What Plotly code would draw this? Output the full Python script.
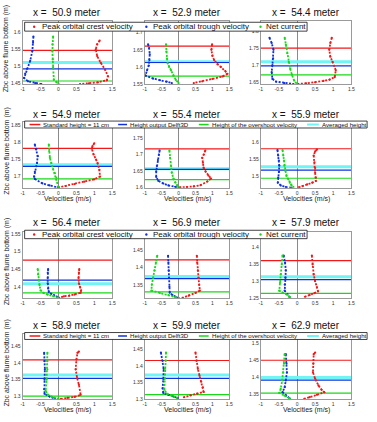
import plotly.graph_objects as go

# ---------------- data ----------------
stations = ["50.9", "52.9", "54.4", "54.9", "55.4", "55.9",
            "56.4", "56.9", "57.9", "58.9", "59.9", "62.9"]

z_min = [1.447, 1.55, 1.645, 1.667, 1.599, 1.465, 1.367, 1.31, 1.249, 1.292, 1.299, 1.334]
z_max = [1.635, 1.735, 1.83, 1.862, 1.80, 1.66, 1.555, 1.504, 1.445, 1.486, 1.496, 1.528]
z_ticks = [
    [1.45, 1.5, 1.55, 1.6], [1.55, 1.6, 1.65, 1.7], [1.65, 1.7, 1.75, 1.8],
    [1.7, 1.75, 1.8, 1.85], [1.6, 1.65, 1.7, 1.75], [1.5, 1.55, 1.6],
    [1.4, 1.45, 1.5, 1.55], [1.35, 1.4, 1.45, 1.5], [1.25, 1.3, 1.35, 1.4],
    [1.3, 1.35, 1.4, 1.45], [1.3, 1.35, 1.4, 1.45], [1.35, 1.4, 1.45, 1.5],
]
x_ticks = [-1, -0.5, 0, 0.5, 1, 1.5]
x_tick_text = ["-1", "-0.5", "0", "0.5", "1", "1.5"]

h_standard = [1.547, 1.661, 1.75, 1.783, 1.717, 1.58, 1.476, 1.423, 1.361, 1.409, 1.416, 1.45]
h_delft = [1.492, 1.613, 1.698, 1.730, 1.655, 1.517, 1.419, 1.368, 1.305, 1.354, 1.362, 1.391]
h_overshoot = [1.456, 1.573, 1.672, 1.693, 1.624, 1.493, 1.383, 1.329, 1.264, 1.301, 1.313, 1.352]
h_averaged = [1.511, 1.615, 1.71, 1.735, 1.657, 1.527, 1.409, 1.374, 1.313, 1.364, 1.372, 1.399]

crest_u = [
    [1.15, 1.08, 1.04, 1.08, 1.18, 1.3, 1.38, 1.35, 1.1, 0.85, 0.6],
    [0.99, 0.97, 1.0, 1.05, 1.15, 1.25, 1.38, 1.44, 1.3, 1.0, 0.7, 0.45],
    [0.96, 0.92, 0.89, 0.92, 0.98, 1.07, 1.04, 0.9, 0.73, 0.5, 0.25, 0.02],
    [1.0, 0.95, 0.93, 0.98, 1.05, 1.09, 1.14, 1.16, 1.0, 0.72, 0.45, 0.2, 0.0],
    [0.79, 0.75, 0.70, 0.72, 0.74, 0.8, 0.88, 0.96, 0.85, 0.65, 0.45, 0.25, 0.05],
    [0.55, 0.5, 0.46, 0.48, 0.5, 0.5, 0.52, 0.52, 0.42, 0.28, 0.15, 0.05],
    [0.58, 0.57, 0.56, 0.57, 0.6, 0.63, 0.62, 0.45, 0.3, 0.15, 0.02],
    [0.54, 0.55, 0.57, 0.59, 0.61, 0.63, 0.5, 0.3, 0.12],
    [0.41, 0.43, 0.46, 0.5, 0.55, 0.58, 0.48, 0.35, 0.22],
    [0.57, 0.53, 0.50, 0.48, 0.52, 0.57, 0.62, 0.45, 0.25, 0.07],
    [0.50, 0.53, 0.57, 0.62, 0.67, 0.72, 0.74, 0.55, 0.35, 0.16],
    [0.50, 0.46, 0.45, 0.44, 0.5, 0.59, 0.68, 0.75, 0.55, 0.35, 0.2],
]
crest_z = [
    [1.576, 1.565, 1.55, 1.53, 1.51, 1.49, 1.47, 1.458, 1.452, 1.449, 1.447],
    [1.666, 1.65, 1.633, 1.62, 1.608, 1.6, 1.588, 1.58, 1.572, 1.565, 1.558, 1.553],
    [1.78, 1.765, 1.745, 1.725, 1.71, 1.685, 1.665, 1.658, 1.654, 1.65, 1.647, 1.645],
    [1.798, 1.79, 1.782, 1.765, 1.75, 1.74, 1.72, 1.70, 1.692, 1.685, 1.678, 1.672, 1.668],
    [1.712, 1.70, 1.69, 1.675, 1.66, 1.648, 1.636, 1.627, 1.618, 1.607, 1.603, 1.601, 1.60],
    [1.578, 1.572, 1.56, 1.54, 1.523, 1.51, 1.495, 1.485, 1.48, 1.475, 1.47, 1.466],
    [1.45, 1.44, 1.425, 1.41, 1.4, 1.39, 1.383, 1.378, 1.375, 1.373, 1.369],
    [1.435, 1.415, 1.392, 1.37, 1.35, 1.333, 1.326, 1.318, 1.312],
    [1.376, 1.35, 1.32, 1.3, 1.282, 1.27, 1.265, 1.259, 1.254],
    [1.434, 1.43, 1.41, 1.381, 1.355, 1.335, 1.305, 1.299, 1.296, 1.293],
    [1.44, 1.415, 1.391, 1.37, 1.352, 1.335, 1.321, 1.316, 1.311, 1.305],
    [1.473, 1.468, 1.44, 1.414, 1.395, 1.375, 1.362, 1.355, 1.347, 1.34, 1.335],
]
trough_u = [
    [-0.70, -0.71, -0.73, -0.79, -0.88, -0.93, -0.96, -0.85, -0.65, -0.48],
    [-0.90, -0.87, -0.85, -0.86, -0.88, -0.93, -0.98, -0.75, -0.55, -0.35, -0.2],
    [-0.76, -0.70, -0.65, -0.66, -0.68, -0.70, -0.68, -0.58, -0.35, -0.1],
    [-0.66, -0.62, -0.58, -0.60, -0.66, -0.68, -0.66, -0.45, -0.25, -0.02],
    [-0.56, -0.58, -0.61, -0.64, -0.66, -0.66, -0.6, -0.45, -0.3, -0.1, 0.0],
    [-0.54, -0.52, -0.50, -0.49, -0.50, -0.52, -0.53, -0.45, -0.31, -0.15],
    [-0.29, -0.30, -0.30, -0.30, -0.29, -0.27, -0.2, -0.12, -0.05, 0.0],
    [-0.31, -0.30, -0.29, -0.28, -0.27, -0.26, -0.18, -0.08, 0.0],
    [-0.37, -0.33, -0.31, -0.32, -0.34, -0.34, -0.27, -0.2],
    [-0.40, -0.39, -0.38, -0.39, -0.40, -0.39, -0.25, -0.1],
    [-0.52, -0.47, -0.44, -0.45, -0.47, -0.45, -0.3, -0.15, -0.03],
    [-0.31, -0.29, -0.28, -0.31, -0.34, -0.40, -0.3, -0.2],
]
trough_z = [
    [1.588, 1.57, 1.545, 1.516, 1.492, 1.478, 1.465, 1.455, 1.45, 1.447],
    [1.666, 1.655, 1.637, 1.62, 1.604, 1.59, 1.575, 1.566, 1.561, 1.557, 1.553],
    [1.78, 1.765, 1.745, 1.72, 1.70, 1.68, 1.66, 1.652, 1.648, 1.645],
    [1.794, 1.78, 1.76, 1.74, 1.714, 1.70, 1.693, 1.68, 1.674, 1.668],
    [1.712, 1.70, 1.683, 1.665, 1.649, 1.632, 1.62, 1.612, 1.606, 1.602, 1.60],
    [1.576, 1.56, 1.545, 1.53, 1.512, 1.495, 1.48, 1.472, 1.467, 1.465],
    [1.45, 1.44, 1.425, 1.41, 1.395, 1.385, 1.38, 1.376, 1.372, 1.369],
    [1.435, 1.415, 1.392, 1.37, 1.344, 1.327, 1.32, 1.314, 1.311],
    [1.376, 1.355, 1.332, 1.31, 1.29, 1.272, 1.262, 1.252],
    [1.430, 1.405, 1.381, 1.35, 1.322, 1.308, 1.3, 1.294],
    [1.44, 1.415, 1.391, 1.36, 1.332, 1.318, 1.312, 1.307, 1.303],
    [1.468, 1.44, 1.414, 1.39, 1.37, 1.355, 1.345, 1.336],
]
net_u = [
    [-0.15, -0.17, -0.17, -0.16, -0.15, -0.13, -0.05, 0.0],
    [-0.37, -0.36, -0.34, -0.32, -0.28, -0.22, -0.15, -0.08, 0.0],
    [-0.34, -0.31, -0.27, -0.23, -0.19, -0.14, -0.08, 0.0],
    [-0.27, -0.26, -0.24, -0.20, -0.15, -0.10, -0.06, 0.0],
    [-0.27, -0.25, -0.22, -0.2, -0.15, -0.1, -0.04, 0.0],
    [-0.40, -0.38, -0.36, -0.35, -0.32, -0.29, -0.24, -0.2, -0.15, -0.1],
    [-0.58, -0.57, -0.55, -0.53, -0.5, -0.42, -0.3, -0.15, 0.0],
    [-0.63, -0.67, -0.71, -0.75, -0.79, -0.80, -0.55, -0.3, -0.1, 0.0],
    [-0.40, -0.42, -0.45, -0.47, -0.49, -0.4, -0.27, -0.19],
    [-0.31, -0.31, -0.31, -0.33, -0.36, -0.3, -0.18, 0.0],
    [-0.37, -0.38, -0.40, -0.41, -0.42, -0.35, -0.2, -0.05],
    [-0.34, -0.36, -0.38, -0.41, -0.45, -0.49, -0.35, -0.2],
]
net_z = [
    [1.588, 1.565, 1.545, 1.52, 1.497, 1.46, 1.452, 1.448],
    [1.666, 1.645, 1.624, 1.61, 1.6, 1.59, 1.575, 1.562, 1.553],
    [1.78, 1.76, 1.735, 1.71, 1.69, 1.672, 1.655, 1.645],
    [1.794, 1.775, 1.755, 1.74, 1.722, 1.71, 1.697, 1.668],
    [1.712, 1.69, 1.665, 1.645, 1.627, 1.615, 1.606, 1.601],
    [1.576, 1.56, 1.545, 1.53, 1.515, 1.50, 1.49, 1.48, 1.472, 1.467],
    [1.45, 1.435, 1.42, 1.405, 1.39, 1.383, 1.378, 1.374, 1.369],
    [1.435, 1.415, 1.392, 1.37, 1.35, 1.333, 1.326, 1.32, 1.314, 1.311],
    [1.376, 1.35, 1.32, 1.295, 1.272, 1.266, 1.26, 1.252],
    [1.430, 1.405, 1.381, 1.35, 1.318, 1.306, 1.299, 1.293],
    [1.44, 1.415, 1.391, 1.36, 1.328, 1.316, 1.309, 1.303],
    [1.468, 1.44, 1.414, 1.39, 1.365, 1.353, 1.345, 1.336],
]

profile_names = ["Peak orbital crest velocity", "Peak orbital trough velocity", "Net current"]
height_names = ["Standard height = 11 cm", "Height output Delft3D",
                "Height of the overshoot velocity", "Averaged height"]

# ---------------- layout constants (pixels) ----------------
W, H = 377, 422
FONT = "Liberation Sans, Arial, sans-serif"
RED, BLUE, GREEN, CYAN = "#f01818", "#1030e0", "#18d818", "#70f4f4"
col_px = [(21, 112), (145, 231), (263, 355)]
row_px = [(19, 83), (121, 188), (233, 300), (336, 402)]
title_y = [11, 113.5, 223, 327.5]


def px(x):
    return x / W


def py(y):
    return 1 - y / H


fig = go.Figure()
layout = dict(width=W, height=H, margin=dict(l=0, r=0, t=0, b=0), autosize=False,
              paper_bgcolor="white", plot_bgcolor="white", showlegend=False,
              font=dict(family=FONT, color="#222"))
annotations, shapes = [], []

x_range = [x_ticks[0], x_ticks[-1]]
for i in range(12):
    r, c = divmod(i, 3)
    k = "" if i == 0 else str(i + 1)
    xa, ya = "x" + k, "y" + k
    layout["xaxis" + k] = dict(
        domain=[px(col_px[c][0]), px(col_px[c][1])], anchor=ya, range=x_range,
        tickmode="array", tickvals=x_ticks, ticktext=x_tick_text,
        tickfont=dict(size=5, color="#333"), ticks="", showgrid=False,
        zeroline=True, zerolinecolor="#8a8a8a", zerolinewidth=1,
        showline=True, mirror=True, linecolor="#9a9a9a", linewidth=1)
    layout["yaxis" + k] = dict(
        domain=[py(row_px[r][1]), py(row_px[r][0])], anchor=xa,
        range=[z_min[i], z_max[i]], tickmode="array", tickvals=z_ticks[i],
        ticktext=[f"{v:g}" for v in z_ticks[i]],
        tickfont=dict(size=5, color="#333"), ticks="", showgrid=False, zeroline=False,
        showline=True, mirror=True, linecolor="#9a9a9a", linewidth=1)

    # horizontal reference heights
    for h, col, wd in [(h_averaged[i], CYAN, 3), (h_standard[i], RED, 1.2),
                       (h_delft[i], BLUE, 1.2), (h_overshoot[i], GREEN, 1.2)]:
        fig.add_trace(go.Scatter(x=x_range, y=[h, h], mode="lines", xaxis=xa, yaxis=ya,
                                 line=dict(color=col, width=wd), hoverinfo="skip"))
    # velocity profiles
    for u, z, col, nm in [(crest_u[i], crest_z[i], RED, profile_names[0]),
                          (trough_u[i], trough_z[i], BLUE, profile_names[1]),
                          (net_u[i], net_z[i], GREEN, profile_names[2])]:
        fig.add_trace(go.Scatter(x=u, y=z, mode="lines+markers", xaxis=xa, yaxis=ya, name=nm,
                                 line=dict(color=col, width=1.8, dash="2px,1.5px"),
                                 marker=dict(color=col, size=2.2)))

    cx = (col_px[c][0] + col_px[c][1]) / 2
    annotations.append(dict(text=f"x =  {stations[i]} meter", x=px(cx), y=py(title_y[r]),
                            xref="paper", yref="paper", showarrow=False,
                            xanchor="center", yanchor="middle",
                            font=dict(size=10, color="#111")))
    if r in (1, 3):
        annotations.append(dict(text="Velocities (m/s)", x=px(cx), y=py(row_px[r][1] + 11),
                                xref="paper", yref="paper", showarrow=False,
                                xanchor="center", yanchor="middle",
                                font=dict(size=7, color="#222")))
    if c == 0:
        annotations.append(dict(text="Zbc above flume bottom (m)", x=px(5),
                                y=py((row_px[r][0] + row_px[r][1]) / 2 - 4),
                                xref="paper", yref="paper", showarrow=False, textangle=-90,
                                xanchor="center", yanchor="middle",
                                font=dict(size=7, color="#222")))

# ---------------- manual legends ----------------
for r in range(4):
    if r in (0, 2):
        y0, y1 = (20.5, 29.5) if r == 0 else (231, 239.5)
        x0, x1 = 23, 310
        items = [(32.7, 39.5, RED, profile_names[0]),
                 (146.7, 152, BLUE, profile_names[1]),
                 (262.7, 267.5, GREEN, profile_names[2])]
        fs = 8.0
    else:
        y0, y1 = (120.5, 127.5) if r == 1 else (334.5, 341.5)
        x0, x1 = 23, 371
        items = [((28, 39), 41, RED, height_names[0]),
                 ((118, 127), 129, BLUE, height_names[1]),
                 ((200, 210), 212, GREEN, height_names[2]),
                 ((310, 322), 324, CYAN, height_names[3])]
        fs = 6.1
    shapes.append(dict(type="rect", xref="paper", yref="paper", x0=px(x0), x1=px(x1),
                       y0=py(y1), y1=py(y0), fillcolor="white",
                       line=dict(color="#111", width=0.8), layer="above"))
    ym = (y0 + y1) / 2
    for sym, tx, col, name in items:
        if isinstance(sym, tuple):
            shapes.append(dict(type="line", xref="paper", yref="paper", x0=px(sym[0]),
                               x1=px(sym[1]), y0=py(ym), y1=py(ym),
                               line=dict(color=col, width=1.5 if col != CYAN else 2),
                               layer="above"))
        else:
            shapes.append(dict(type="circle", xref="paper", yref="paper",
                               x0=px(sym - 1.2), x1=px(sym + 1.2),
                               y0=py(ym + 1.2), y1=py(ym - 1.2),
                               fillcolor=col, line=dict(color=col, width=0), layer="above"))
        annotations.append(dict(text=name, x=px(tx), y=py(ym), xref="paper", yref="paper",
                                showarrow=False, xanchor="left", yanchor="middle",
                                borderpad=0, font=dict(size=fs, color="#111")))

layout["annotations"] = annotations
layout["shapes"] = shapes
fig.update_layout(**layout)
fig.write_html("out.html")
